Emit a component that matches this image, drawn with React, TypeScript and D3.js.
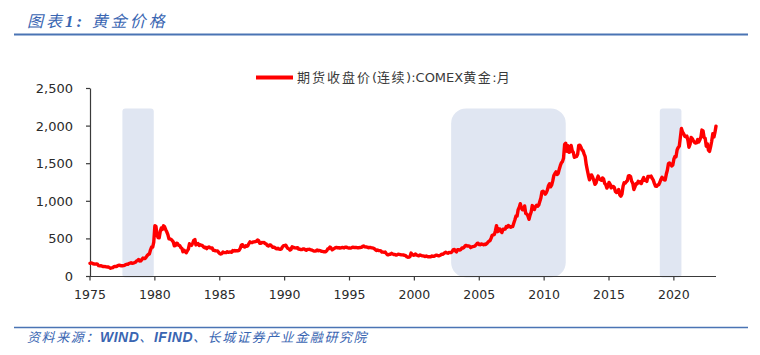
import React from "react";
import * as d3 from "d3";

// Monthly average COMEX gold price (USD/oz), Jan 1975 – Apr 2023
const gold1970s = [
  176, 180, 178, 169, 167, 164, 166, 163, 144, 142, 143, 139,
  132, 132, 133, 128, 127, 126, 118, 110, 114, 117, 131, 133,
  133, 136, 148, 149, 147, 141, 143, 145, 149, 158, 162, 161,
  173, 178, 183, 175, 177, 183, 189, 206, 212, 227, 206, 208,
  227, 245, 242, 239, 257, 279, 294, 301, 355, 392, 392, 456,
];
const gold1980s = [
  675, 665, 554, 517, 514, 600, 645, 627, 674, 661, 623, 594,
  557, 500, 499, 495, 479, 460, 409, 411, 443, 437, 413, 410,
  384, 374, 330, 350, 334, 315, 339, 364, 435, 424, 414, 444,
  481, 491, 420, 432, 438, 413, 422, 416, 411, 394, 382, 388,
  370, 386, 394, 381, 378, 378, 348, 348, 341, 341, 341, 320,
  303, 299, 304, 325, 317, 317, 318, 330, 323, 325, 326, 322,
  345, 339, 346, 340, 342, 343, 348, 376, 418, 423, 398, 391,
  408, 401, 409, 438, 460, 450, 450, 461, 460, 465, 467, 486,
  477, 442, 443, 452, 451, 452, 437, 433, 413, 406, 420, 419,
  404, 388, 390, 384, 371, 367, 375, 365, 362, 367, 394, 409,
];
const gold1990s = [
  410, 417, 393, 374, 369, 352, 362, 395, 389, 381, 381, 378,
  384, 364, 363, 358, 357, 367, 368, 356, 349, 359, 361, 362,
  354, 354, 345, 338, 337, 341, 353, 343, 345, 344, 335, 334,
  329, 329, 330, 342, 367, 372, 392, 378, 355, 364, 374, 383,
  387, 382, 384, 377, 381, 385, 385, 380, 391, 390, 384, 379,
  379, 377, 382, 391, 385, 387, 386, 383, 383, 383, 386, 387,
  400, 405, 396, 393, 392, 385, 383, 387, 383, 381, 378, 369,
  355, 346, 352, 344, 344, 341, 324, 324, 323, 325, 306, 289,
  289, 297, 296, 308, 299, 292, 293, 284, 289, 296, 294, 291,
  287, 288, 286, 282, 277, 262, 256, 257, 265, 311, 293, 283,
];
const gold2000s = [
  284, 300, 286, 280, 275, 286, 282, 275, 274, 270, 266, 272,
  266, 262, 263, 261, 272, 270, 268, 273, 283, 283, 276, 276,
  282, 295, 294, 302, 314, 322, 314, 310, 319, 317, 319, 333,
  357, 359, 340, 328, 355, 356, 351, 360, 379, 379, 389, 407,
  414, 405, 406, 404, 384, 392, 398, 400, 406, 420, 439, 442,
  424, 423, 434, 429, 422, 430, 424, 438, 456, 470, 476, 510,
  549, 555, 557, 610, 676, 596, 633, 632, 598, 585, 628, 629,
  631, 665, 655, 679, 667, 655, 665, 665, 712, 754, 806, 803,
  889, 922, 968, 909, 888, 890, 939, 839, 829, 806, 760, 816,
  858, 943, 924, 890, 928, 946, 934, 949, 996, 1043, 1127, 1135,
];
const gold2010s = [
  1118, 1095, 1113, 1149, 1205, 1232, 1193, 1215, 1271, 1343, 1370, 1391,
  1356, 1372, 1424, 1474, 1512, 1529, 1573, 1756, 1772, 1665, 1739, 1652,
  1656, 1742, 1673, 1650, 1585, 1596, 1594, 1626, 1744, 1747, 1722, 1684,
  1671, 1627, 1593, 1487, 1414, 1343, 1286, 1347, 1349, 1316, 1275, 1225,
  1244, 1300, 1336, 1299, 1288, 1279, 1311, 1296, 1239, 1222, 1176, 1202,
  1251, 1227, 1179, 1198, 1199, 1181, 1131, 1117, 1125, 1157, 1086, 1068,
  1097, 1200, 1246, 1242, 1260, 1276, 1337, 1341, 1326, 1266, 1238, 1157,
  1192, 1234, 1231, 1266, 1246, 1260, 1236, 1283, 1315, 1280, 1283, 1265,
  1331, 1331, 1325, 1335, 1304, 1281, 1238, 1202, 1198, 1215, 1221, 1250,
  1291, 1320, 1300, 1286, 1284, 1359, 1413, 1500, 1510, 1495, 1470, 1480,
];
const gold2020s = [
  1560, 1597, 1592, 1683, 1715, 1732, 1847, 1968, 1921, 1900, 1866, 1858,
  1867, 1808, 1718, 1760, 1850, 1834, 1807, 1785, 1776, 1777, 1821, 1790,
  1817, 1856, 1947, 1937, 1849, 1837, 1732, 1765, 1681, 1664, 1726, 1798,
  1898, 1855, 1912, 2000,
];

const startYear = 1975;
const yTicks = [0, 500, 1000, 1500, 2000, 2500];
const xTickYears = [1975, 1980, 1985, 1990, 1995, 2000, 2005, 2010, 2015, 2020];
const shadedPeriods: [string, string][] = [
  ["1977-07", "1979-12"],
  ["2002-11", "2011-09"],
  ["2018-12", "2020-08"],
];
const shadeTopValue = 2235;
const legendLabel = "期货收盘价(连续):COMEX黄金:月";
const titleText = "图表1: 黄金价格";
const sourceText = "资料来源：WIND、IFIND、长城证券产业金融研究院";

const W = 760;
const H = 355;
const plot = { left: 90, right: 716, top: 88.5, bottom: 276.5 };

export default function App() {
  const values = [...gold1970s, ...gold1980s, ...gold1990s, ...gold2000s, ...gold2010s, ...gold2020s];
  const data = values.map((v, i) => ({ date: new Date(startYear, i, 1), v }));
  const parse = d3.timeParse("%Y-%m");

  const x = d3
    .scaleTime()
    .domain([new Date(startYear, 0, 1), data[data.length - 1].date])
    .range([plot.left, plot.right]);
  const y = d3.scaleLinear().domain([0, 2500]).range([plot.bottom, plot.top]);

  const line = d3
    .line<{ date: Date; v: number }>()
    .x((d) => x(d.date))
    .y((d) => y(d.v));

  const fmt = d3.format(",");
  const axisColor = "#3a3a3a";
  const blue = "#3a66b2";

  return (
    <svg
      width={W}
      height={H}
      style={{ position: "absolute", left: 0, top: 0, background: "#fff" }}
      xmlns="http://www.w3.org/2000/svg"
    >
      <rect x={0} y={0} width={W} height={H} fill="#fff" />
      {/* Title */}
      <text
        x={27}
        y={27}
        fontFamily="'Noto Sans CJK SC', sans-serif"
        fontSize={16}
        fontStyle="italic"
        fill={blue}
        letterSpacing={3}
      >
        图表
        <tspan fontFamily="'Liberation Serif', serif" fontWeight="bold" fontSize={17}>
          1:
        </tspan>
        {" 黄金价格"}
      </text>
      <line x1={14} x2={748} y1={34.5} y2={34.5} stroke="#4a74b4" strokeWidth={2} />

      {/* Shaded periods */}
      {shadedPeriods.map(([a, b], i) => {
        const x0 = x(parse(a)!);
        const x1 = x(parse(b)!);
        const w = x1 - x0;
        const r = w > 60 ? 15 : 3;
        return (
          <rect
            key={i}
            x={x0}
            y={y(shadeTopValue)}
            width={w}
            height={y(0) - y(shadeTopValue) + 1}
            rx={r}
            ry={r}
            fill="#e0e6f2"
          />
        );
      })}

      {/* Legend */}
      <line x1={256} x2={293} y1={77.5} y2={77.5} stroke="#ff0000" strokeWidth={4} />
      <text
        x={297}
        y={82}
        fontFamily="'DejaVu Sans', 'Noto Sans CJK SC', sans-serif"
        fontSize={13}
        fill="#3a3a3a"
      >
        <tspan letterSpacing={2} fontFamily="'Noto Sans CJK SC'">期货收盘价</tspan>
        <tspan>(</tspan>
        <tspan letterSpacing={1.5} fontFamily="'Noto Sans CJK SC'">连续</tspan>
        <tspan>):COMEX</tspan>
        <tspan letterSpacing={1.5} fontFamily="'Noto Sans CJK SC'">黄金</tspan>
        <tspan>:</tspan>
        <tspan fontFamily="'Noto Sans CJK SC'">月</tspan>
        <title>{legendLabel}</title>
      </text>

      {/* Y axis */}
      <line x1={plot.left + 0.5} x2={plot.left + 0.5} y1={y(2500)} y2={y(0)} stroke={axisColor} strokeWidth={1.2} />
      {yTicks.map((t) => (
        <g key={t}>
          <line x1={plot.left - 4} x2={plot.left} y1={y(t)} y2={y(t)} stroke={axisColor} strokeWidth={1.2} />
          <text
            x={73}
            y={y(t) + 4.5}
            textAnchor="end"
            fontFamily="'DejaVu Sans', sans-serif"
            fontSize={13}
            fill="#2a2a2a"
          >
            {fmt(t)}
          </text>
        </g>
      ))}

      {/* X axis */}
      <line x1={plot.left} x2={plot.right} y1={y(0)} y2={y(0)} stroke={axisColor} strokeWidth={1.2} />
      {xTickYears.map((yr) => {
        const xx = x(new Date(yr, 0, 1));
        return (
          <g key={yr}>
            <line x1={xx} x2={xx} y1={y(0)} y2={y(0) + 4} stroke={axisColor} strokeWidth={1.2} />
            <text
              x={xx}
              y={y(0) + 22}
              textAnchor="middle"
              fontFamily="'DejaVu Sans', sans-serif"
              fontSize={12.5}
              fill="#2a2a2a"
            >
              {yr}
            </text>
          </g>
        );
      })}

      {/* Price line */}
      <path
        d={line(data) || ""}
        fill="none"
        stroke="#ff0000"
        strokeWidth={3.4}
        strokeLinejoin="round"
        strokeLinecap="round"
      />

      {/* Footer */}
      <line x1={14} x2={748} y1={327.5} y2={327.5} stroke="#4a74b4" strokeWidth={1.5} />
      <text
        x={27}
        y={342}
        fontFamily="'Noto Sans CJK SC', sans-serif"
        fontSize={13}
        fontStyle="italic"
        fill={blue}
        letterSpacing={1.6}
      >
        资料来源：
        <tspan fontFamily="'Liberation Sans', sans-serif" fontWeight="bold" fontSize={14} letterSpacing={0.5}>
          WIND
        </tspan>
        、
        <tspan fontFamily="'Liberation Sans', sans-serif" fontWeight="bold" fontSize={14} letterSpacing={0.5}>
          IFIND
        </tspan>
        、长城证券产业金融研究院
        <title>{sourceText}</title>
      </text>
      <desc>{titleText}</desc>
    </svg>
  );
}
